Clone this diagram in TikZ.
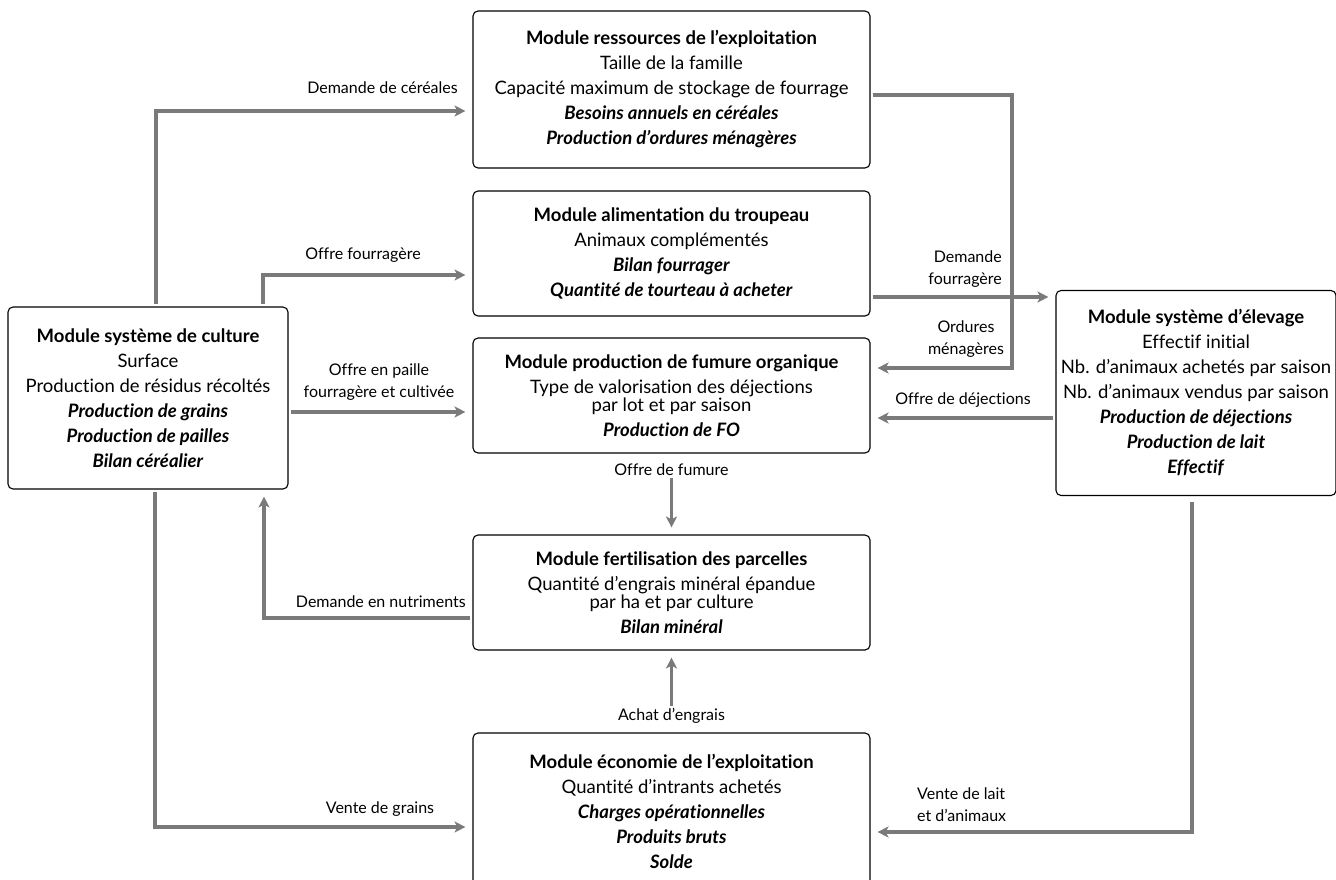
\documentclass[tikz,border=0pt]{standalone}
\usepackage{fontspec}
\setmainfont{Lato}[Ligatures=NoCommon]
\usepackage{xcolor}
\usetikzlibrary{arrows.meta,positioning}

\definecolor{flowgray}{RGB}{122,122,122}
\newcommand{\modtitle}[1]{\textbf{#1}}
\newcommand{\modout}[1]{\textbf{\textit{#1}}}

\begin{document}
\begin{tikzpicture}[x=1pt, y=-1pt,
    module/.style={draw=black, line width=1.1pt, rounded corners=5pt, align=center, inner sep=0pt, font=\fontsize{18.5}{25}\selectfont},
    mid_module/.style={module, minimum width=397pt},
    side_module/.style={module, minimum width=280pt},
    flow/.style={-{Stealth[length=11pt, width=11pt, inset=3pt]}, line width=3.5pt, draw=flowgray, shorten >=7pt, shorten <=2pt},
    flow_label/.style={font=\fontsize{16}{22}\selectfont, inner sep=0pt}
]
    \useasboundingbox (0,0) rectangle (1336,880);

    % --- Modules ---
    % centre column
    \node[mid_module, minimum height=157pt] (ressources) at (671.5,89.5) {\modtitle{Module ressources de l’exploitation}\\ Taille de la famille\\ Capacité maximum de stockage de fourrage\\ \modout{Besoins annuels en céréales}\\ \modout{Production d’ordures ménagères}};
    \node[mid_module, minimum height=125pt] (alimentation) at (671.5,253.5) {\modtitle{Module alimentation du troupeau}\\ Animaux complémentés\\ \modout{Bilan fourrager}\\ \modout{Quantité de tourteau à acheter}};
    \node[mid_module, minimum height=115pt] (fumure) at (671.5,395.5) {\modtitle{Module production de fumure organique}\\ Type de valorisation des déjections\\[-7pt] par lot et par saison\\ \modout{Production de FO}};
    \node[mid_module, minimum height=115pt] (fertilisation) at (671.5,592.5) {\modtitle{Module fertilisation des parcelles}\\ Quantité d’engrais minéral épandue\\[-7pt] par ha et par culture\\ \modout{Bilan minéral}};
    \node[mid_module, minimum height=157pt] (economie) at (671.5,811.5) {\modtitle{Module économie de l’exploitation}\\ Quantité d’intrants achetés\\ \modout{Charges opérationnelles}\\ \modout{Produits bruts}\\ \modout{Solde}};

    % side columns
    \node[side_module, minimum height=182pt] (culture) at (148,398) {\modtitle{Module système de culture}\\ Surface\\ Production de résidus récoltés\\ \modout{Production de grains}\\ \modout{Production de pailles}\\ \modout{Bilan céréalier}};
    \node[side_module, minimum height=205pt] (elevage) at (1196,393) {\modtitle{Module système d’élevage}\\ Effectif initial\\ Nb. d’animaux achetés par saison\\ Nb. d’animaux vendus par saison\\ \modout{Production de déjections}\\ \modout{Production de lait}\\ \modout{Effectif}};

    % --- Bend points ---
    \coordinate (cereal_bend) at (156,111);
    \coordinate (fodder_bend) at (263,275);
    \coordinate (straw_in) at (0,412);
    \coordinate (fodder_out) at (0,297);
    \coordinate (waste_bend) at (1012,95);
    \coordinate (waste_in) at (1012,368);
    \coordinate (manure_in) at (0,418);
    \coordinate (nutrient_bend) at (264,618);
    \coordinate (grain_bend) at (155,827);
    \coordinate (milk_bend) at (1192,832);

    % --- Labels ---
    \node[flow_label, anchor=base east] (cereal_lbl) at (458,94) {Demande de céréales};
    \node[flow_label, anchor=base] (fodder_lbl) at (363,259) {Offre fourragère};
    \node[flow_label, anchor=south, align=center] (straw_lbl) at (379,401) {Offre en paille\\ fourragère et cultivée};
    \node[flow_label, anchor=south east, align=right] (demand_lbl) at (1002,288) {Demande\\ fourragère};
    \node[flow_label, anchor=south, align=center] (waste_lbl) at (966,358) {Ordures\\ ménagères};
    \node[flow_label, anchor=south] (manure_lbl) at (963,408) {Offre de déjections};
    \node[flow_label, below=10pt of fumure] (fumure_lbl) {Offre de fumure};
    \node[flow_label, anchor=south east] (nutrient_lbl) at (466,608) {Demande en nutriments};
    \node[flow_label, above=9pt of economie] (achat_lbl) {Achat d’engrais};
    \node[flow_label, anchor=south] (grain_lbl) at (380,817) {Vente de grains};
    \node[flow_label, anchor=south west, align=left] (milk_lbl) at (917,822) {Vente de lait\\ et d’animaux};

    % --- Flows ---
    \draw[flow] (culture.north -| cereal_bend) |- (ressources.west |- cereal_bend);
    \draw[flow] (culture.north -| fodder_bend) |- (alimentation.west |- fodder_bend);
    \draw[flow] (culture.east |- straw_in) -- (fumure.west |- straw_in);
    \draw[flow] (alimentation.east |- fodder_out) -- (elevage.west |- fodder_out);
    \draw[flow] (ressources.east |- waste_bend) -| (waste_in) -- (fumure.east |- waste_in);
    \draw[flow] (elevage.west |- manure_in) -- (fumure.east |- manure_in);
    \draw[flow] (fumure_lbl) -- (fertilisation);
    \draw[flow] (fertilisation.west |- nutrient_bend) -| (culture.south -| nutrient_bend);
    \draw[flow] (achat_lbl) -- (fertilisation);
    \draw[flow] (culture.south -| grain_bend) |- (economie.west |- grain_bend);
    \draw[flow, shorten <=6pt] (elevage.south -| milk_bend) |- (economie.east |- milk_bend);

\end{tikzpicture}
\end{document}
